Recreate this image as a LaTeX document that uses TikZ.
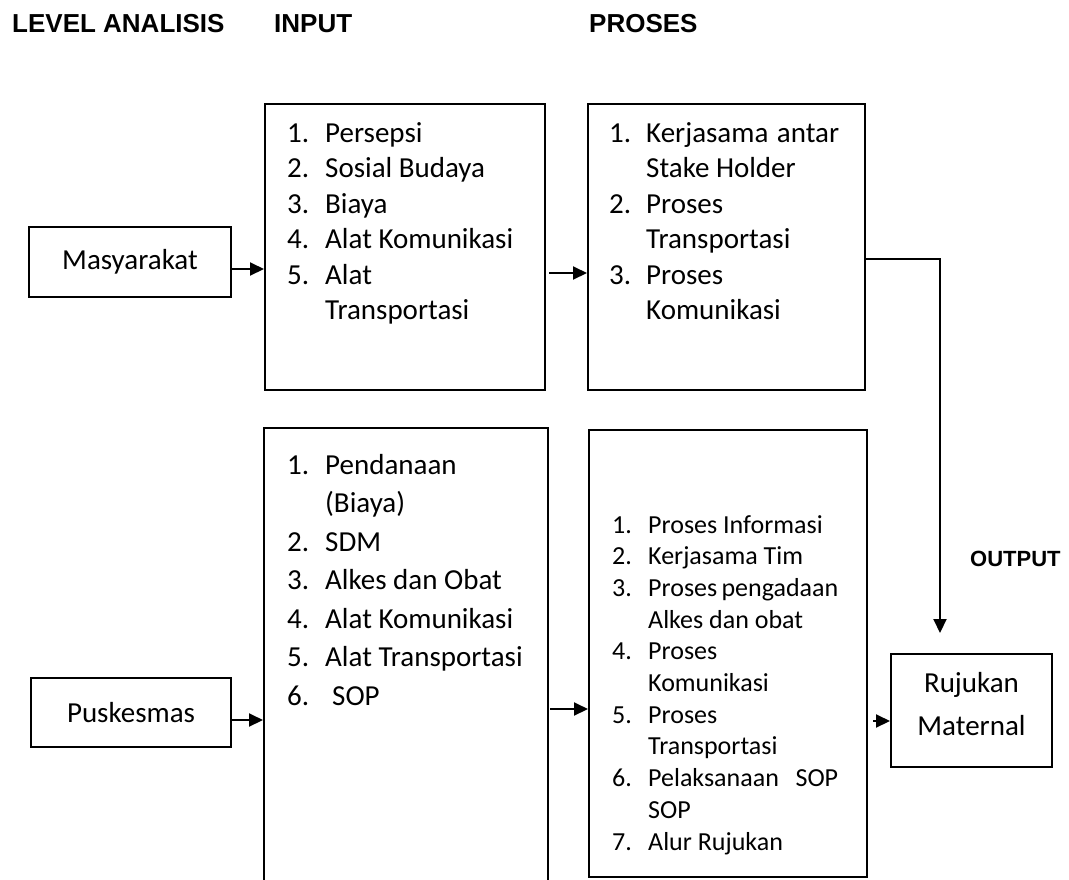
\documentclass[tikz,border=0pt]{standalone}
\usepackage{fontspec}
\setmainfont{Carlito}
\newfontfamily\hdrfont{Liberation Sans}
\usetikzlibrary{arrows.meta}
\tikzset{
  box/.style={draw, line width=2pt, inner sep=0pt},
  txt/.style={font=\fontsize{29}{35.5}\selectfont},
  item/.style={anchor=base west, inner sep=0pt, font=\fontsize{29}{35.5}\selectfont},
  mid/.style={anchor=base, inner sep=0pt, font=\fontsize{29}{35.5}\selectfont},
  small/.style={anchor=base west, inner sep=0pt, font=\fontsize{26}{31.7}\selectfont},
  head/.style={anchor=base west, inner sep=0pt, font=\hdrfont\bfseries\fontsize{26}{30}\selectfont},
  subhead/.style={anchor=base west, inner sep=0pt, font=\hdrfont\bfseries\fontsize{22}{26}\selectfont},
  arr/.style={line width=2pt, -{Triangle[length=14pt,width=13pt]}},
  link/.style={line width=1.6pt}
}
\begin{document}
\begin{tikzpicture}[x=1pt,y=-1pt]
\useasboundingbox (0,0) rectangle (1069,879);
\clip (0,0) rectangle (1069,879);

% column headings
\node[head] (hLevel) at (12,32) {LEVEL ANALISIS};
\node[head] (hInput) at (274,32) {INPUT};
\node[head] (hProses) at (589,32) {PROSES};
\node[subhead] (hOutput) at (970,566) {OUTPUT};

% level boxes
\node[box, txt, minimum width=202pt, minimum height=70pt] (masy) at (130,262) {Masyarakat};
\node[box, txt, minimum width=200pt, minimum height=69pt] (pusk) at (131,712.5) {Puskesmas};

% input and process boxes
\node[box, minimum width=280pt, minimum height=286pt] (inA) at (405,247) {};
\node[box, minimum width=277pt, minimum height=286pt] (prA) at (726.5,247) {};
\node[box, minimum width=284pt, minimum height=467pt] (inB) at (406,661.5) {};
\node[box, minimum width=278pt, minimum height=447pt] (prB) at (728,653.5) {};

% output box
\node[box, minimum width=161pt, minimum height=113pt] (ruj) at (971.5,710.5) {};
\node[mid] (ruj1) at (971.5,692) {Rujukan};
\node[mid] (ruj2) at (971.5,735) {Maternal};

% input list, community level
\node[item] (a1n) at (287,142) {1.};   \node[item] (a1t) at (325,142) {Persepsi};
\node[item] (a2n) at (287,177.5) {2.}; \node[item] (a2t) at (325,177.5) {Sosial Budaya};
\node[item] (a3n) at (287,213) {3.};   \node[item] (a3t) at (325,213) {Biaya};
\node[item] (a4n) at (287,248.5) {4.}; \node[item] (a4t) at (325,248.5) {Alat Komunikasi};
\node[item] (a5n) at (287,284) {5.};   \node[item] (a5t) at (325,284) {Alat};
\node[item] (a5u) at (325,319.5) {Transportasi};

% process list, community level
\node[item] (b1n) at (609,142) {1.};   \node[item] (b1t) at (646,142) {\hbox to 193pt{Kerjasama\hfill antar}};
\node[item] (b1u) at (646,177.5) {Stake Holder};
\node[item] (b2n) at (609,213) {2.};   \node[item] (b2t) at (646,213) {Proses};
\node[item] (b2u) at (646,248.5) {Transportasi};
\node[item] (b3n) at (609,284) {3.};   \node[item] (b3t) at (646,284) {Proses};
\node[item] (b3u) at (646,319.5) {Komunikasi};

% input list, health centre level
\node[item] (c1n) at (287,474) {1.};   \node[item] (c1t) at (325,474) {Pendanaan};
\node[item] (c1u) at (325,512.5) {(Biaya)};
\node[item] (c2n) at (287,551) {2.};   \node[item] (c2t) at (325,551) {SDM};
\node[item] (c3n) at (287,589.5) {3.}; \node[item] (c3t) at (325,589.5) {Alkes dan Obat};
\node[item] (c4n) at (287,628) {4.};   \node[item] (c4t) at (325,628) {Alat Komunikasi};
\node[item] (c5n) at (287,666.5) {5.}; \node[item] (c5t) at (325,666.5) {Alat Transportasi};
\node[item] (c6n) at (287,705) {6.};   \node[item] (c6t) at (332,705) {SOP};

% process list, health centre level
\node[small] (d1n) at (612,533) {1.};    \node[small] (d1t) at (648,533) {Proses Informasi};
\node[small] (d2n) at (612,564.7) {2.};  \node[small] (d2t) at (648,564.7) {Kerjasama Tim};
\node[small] (d3n) at (612,596.4) {3.};  \node[small] (d3t) at (648,596.4) {\hbox to 190pt{Proses\hfill pengadaan}};
\node[small] (d3u) at (648,628.1) {Alkes dan obat};
\node[small] (d4n) at (612,659.8) {4.};  \node[small] (d4t) at (648,659.8) {Proses};
\node[small] (d4u) at (648,691.5) {Komunikasi};
\node[small] (d5n) at (612,723.2) {5.};  \node[small] (d5t) at (648,723.2) {Proses};
\node[small] (d5u) at (648,754.9) {Transportasi};
\node[small] (d6n) at (612,786.6) {6.};  \node[small] (d6t) at (648,786.6) {\hbox to 190pt{Pelaksanaan\hfill SOP}};
\node[small] (d6u) at (648,818.3) {SOP};
\node[small] (d7n) at (612,850) {7.};    \node[small] (d7t) at (648,850) {Alur Rujukan};

% connectors
\draw[arr] ([yshift=-7pt]masy.east) -- ([yshift=-7pt]masy.east -| inA.west);
\draw[arr] ([yshift=-7.5pt]pusk.east) -- ([yshift=-7.5pt]pusk.east -| inB.west);
\draw[arr] ([yshift=-26pt,xshift=3pt]inA.east) -- ([yshift=-26pt]inA.east -| prA.west);
\draw[arr] ([yshift=-47.5pt,xshift=1pt]inB.east) -- ([yshift=-47.5pt]inB.east -| prB.west);
\draw[arr] ([yshift=-10.5pt,xshift=5pt]ruj.west -| prB.east) -- ([yshift=-10.5pt]ruj.west);
\coordinate (outTip) at (940,633);
\draw[link] ([yshift=-12pt]prA.east) -| ([yshift=14pt]outTip);
\draw[arr] ([yshift=15pt]outTip) -- (outTip);
\end{tikzpicture}
\end{document}
